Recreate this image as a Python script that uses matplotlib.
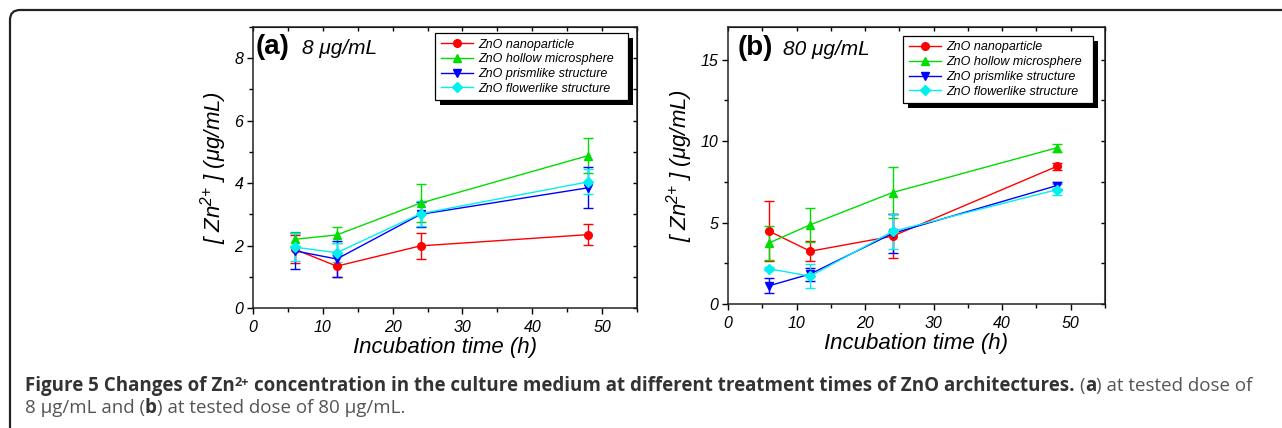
import matplotlib
matplotlib.use("Agg")
import matplotlib.pyplot as plt
from matplotlib.lines import Line2D
from matplotlib.patches import FancyBboxPatch, Rectangle
from matplotlib.ticker import MultipleLocator

plt.rcParams['font.family'] = ['Liberation Sans', 'DejaVu Sans']
plt.rcParams['mathtext.fontset'] = 'custom'
plt.rcParams['mathtext.rm'] = 'Liberation Sans:italic'
plt.rcParams['mathtext.it'] = 'Liberation Sans:italic'

# data
hours = [6, 12, 24, 48]
series_names = ["ZnO nanoparticle", "ZnO hollow microsphere",
                "ZnO prismlike structure", "ZnO flowerlike structure"]

# (a) 8 ug/mL
a_nano = [1.88, 1.34, 1.99, 2.35]
a_nano_err = [0.45, 0.35, 0.42, 0.33]
a_hollow = [2.20, 2.34, 3.36, 4.88]
a_hollow_err = [0.22, 0.27, 0.60, 0.55]
a_prism = [1.83, 1.57, 3.00, 3.85]
a_prism_err = [0.58, 0.58, 0.40, 0.66]
a_flower = [1.95, 1.77, 3.02, 4.04]
a_flower_err = [0.45, 0.30, 0.40, 0.40]

# (b) 80 ug/mL
b_nano = [4.47, 3.24, 4.16, 8.45]
b_nano_err = [1.85, 0.60, 1.35, 0.20]
b_hollow = [3.75, 4.86, 6.84, 9.59]
b_hollow_err = [1.05, 1.05, 1.55, 0.25]
b_prism = [1.12, 1.84, 4.33, 7.27]
b_prism_err = [0.47, 0.40, 1.20, 0.20]
b_flower = [2.16, 1.71, 4.45, 7.02]
b_flower_err = [0.10, 0.72, 1.05, 0.35]

colors = ['#ff0000', '#00dd00', '#0000ff', '#00f0f0']
markers = ['o', '^', 'v', 'D']
msizes = [5.5, 6, 6, 5]

fig = plt.figure(figsize=(12.82, 4.28), dpi=100)
W, H = 1282, 428


def make_panel(rect, ys, errs, ymax, ymajor, label, dose, leg_rect):
    ax = fig.add_axes(rect)
    for k in range(4):
        ax.errorbar(hours, ys[k], yerr=errs[k], color=colors[k], marker=markers[k],
                    markersize=msizes[k], lw=1.0, elinewidth=1.0, capsize=3.5,
                    capthick=1.0)
    ax.set_xlim(0, 55)
    ax.set_ylim(0, ymax)
    ax.xaxis.set_major_locator(MultipleLocator(10))
    ax.xaxis.set_minor_locator(MultipleLocator(5))
    ax.yaxis.set_major_locator(MultipleLocator(ymajor))
    ax.yaxis.set_minor_locator(MultipleLocator(ymajor / 2))
    ax.tick_params(which='major', direction='out', length=4, width=1, labelsize=11.5, pad=3)
    ax.tick_params(axis='x', which='major', pad=5)
    ax.tick_params(which='minor', direction='out', length=3, width=1)
    for t in ax.get_xticklabels() + ax.get_yticklabels():
        t.set_fontstyle('italic')
    for s in ax.spines.values():
        s.set_linewidth(1.1)
        s.set_color('#222222')
    # inward ticks on top and right
    top = ax.secondary_xaxis('top')
    top.xaxis.set_major_locator(MultipleLocator(10))
    top.xaxis.set_minor_locator(MultipleLocator(5))
    top.tick_params(which='both', direction='in', labeltop=False, length=3, width=1)
    right = ax.secondary_yaxis('right')
    right.yaxis.set_major_locator(MultipleLocator(ymajor))
    right.yaxis.set_minor_locator(MultipleLocator(ymajor / 2))
    right.tick_params(which='both', direction='in', labelright=False, length=3, width=1)

    ax.set_xlabel("Incubation time (h)", fontsize=16, fontstyle='italic', labelpad=1)
    ax.set_ylabel("[ Zn$^{2{+}}$ ] (\u03bcg/mL)", fontsize=16, fontstyle='italic', labelpad=4)
    ax.text(label[1], label[2], label[0], transform=ax.transAxes, fontsize=20,
            fontweight='bold', va='center', ha='left')
    ax.text(dose[1], dose[2], dose[0], transform=ax.transAxes, fontsize=15,
            fontstyle='italic', va='center', ha='left')

    handles = [Line2D([], [], color=colors[k], marker=markers[k], markersize=msizes[k], lw=1.0)
               for k in range(4)]
    leg = ax.legend(handles, series_names, loc='upper left', bbox_to_anchor=leg_rect,
                    mode='expand', prop={'style': 'italic', 'size': 9},
                    frameon=True, fancybox=False, edgecolor='black', framealpha=1,
                    handlelength=2.6, handletextpad=0.4, labelspacing=0.22,
                    borderpad=0.45, borderaxespad=0)
    leg.get_frame().set_linewidth(0.9)
    return ax, leg


ax_a, leg_a = make_panel([253 / W, 1 - 308 / H, 384 / W, 281 / H],
                         [a_nano, a_hollow, a_prism, a_flower],
                         [a_nano_err, a_hollow_err, a_prism_err, a_flower_err],
                         9, 2, ("(a)", 0.008, 0.93), ("8 \u03bcg/mL", 0.128, 0.925),
                         (0.474, 0.73, 0.503, 0.249))
ax_b, leg_b = make_panel([728 / W, 1 - 304 / H, 377 / W, 277 / H],
                         [b_nano, b_hollow, b_prism, b_flower],
                         [b_nano_err, b_hollow_err, b_prism_err, b_flower_err],
                         17, 5, ("(b)", 0.025, 0.925), ("80 \u03bcg/mL", 0.146, 0.92),
                         (0.464, 0.722, 0.504, 0.246))

fig.canvas.draw()
r = fig.canvas.get_renderer()

# black drop shadow behind each legend
for leg in (leg_a, leg_b):
    bb = leg.get_frame().get_window_extent(r)
    fig.patches.append(Rectangle((bb.x0 + 5, bb.y0 - 5), bb.width, bb.height,
                                 transform=None, facecolor='black', edgecolor='none',
                                 zorder=0.5))
    leg.set_zorder(10)
ax_a.set_zorder(2)
ax_b.set_zorder(2)
ax_a.patch.set_alpha(0)
ax_b.patch.set_alpha(0)

# rounded outer frame (open to the right and bottom)
fig.patches.append(FancyBboxPatch((10, -40), 3000, 458, boxstyle="round,pad=0,rounding_size=10",
                                  transform=None, facecolor='none', edgecolor='#222222',
                                  linewidth=1.6, zorder=0))

# caption, laid out piece by piece
cap_font = ['Open Sans', 'DejaVu Sans']


def space_w(fs):
    t = fig.text(0, 0, 'a a', fontsize=fs, family=cap_font)
    t2 = fig.text(0, 0, 'aa', fontsize=fs, family=cap_font)
    w = t.get_window_extent(r).width - t2.get_window_extent(r).width
    t.remove()
    t2.remove()
    return w


def put_line(x, y, pieces):
    made = []
    for s, bold, fs, dy, col in pieces:
        if s == ' ':
            x += space_w(fs)
            continue
        t = fig.text(x, y + dy, s, transform=None, fontsize=fs, family=cap_font,
                     fontweight='bold' if bold else 'normal', color=col, va='baseline')
        made.append(t)
        x += t.get_window_extent(r).width
    return x, made


dark = '#333333'
grey = '#555555'


def line1(fs):
    return [
        ("Figure 5 Changes of Zn", True, fs, 0, dark),
        ("2+", True, fs * 0.68, 5, dark),
        (' ', False, fs, 0, dark),
        ("concentration in the culture medium at different treatment times of ZnO architectures.",
         True, fs, 0, dark),
        (' ', False, fs, 0, dark),
        ("(", False, fs, 0, grey), ("a", True, fs, 0, dark),
        (") at tested dose of", False, fs, 0, grey),
    ]


fs = 10.5
end, made = put_line(25, 428 - 391, line1(fs))
for t in made:
    t.remove()
fs = fs * (1257 - 25) / (end - 25)
put_line(25, 428 - 391, line1(fs))
put_line(25, 428 - 413, [
    ("8 \u03bcg/mL and (", False, fs, 0, grey), ("b", True, fs, 0, dark),
    (") at tested dose of 80 \u03bcg/mL.", False, fs, 0, grey),
])

fig.savefig("out.png", dpi=100)
